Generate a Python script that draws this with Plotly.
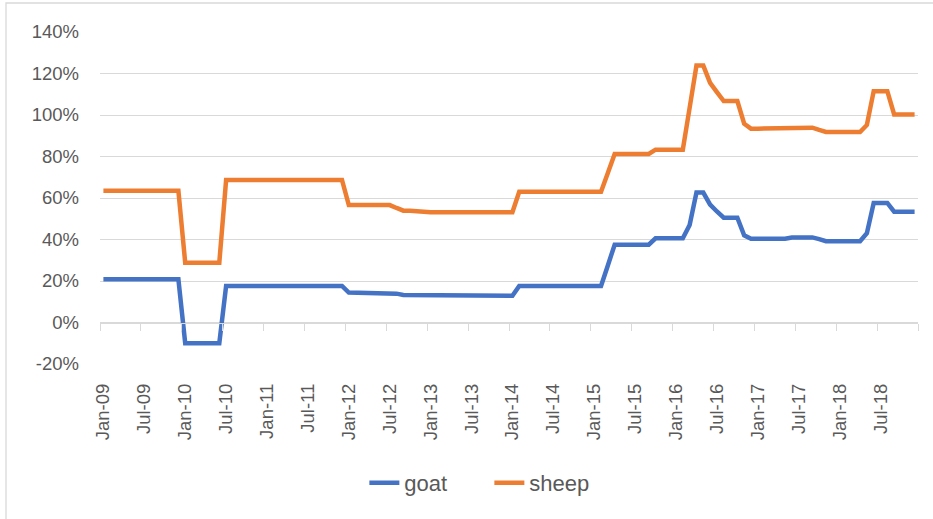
import plotly.graph_objects as go

# ---- data (monthly, Jan-09 .. Dec-18), percent ----
months = [f"{m}-{y:02d}" for y in range(9, 19) for m in
          ["Jan", "Feb", "Mar", "Apr", "May", "Jun", "Jul", "Aug", "Sep", "Oct", "Nov", "Dec"]]

goat = ([20.8] * 12 + [-10.0] * 6 + [17.6] * 18 + [14.4] * 7 + [13.9] + [13.3] * 2 + [13.1]
        + [12.9] * 14 + [17.6] * 13 + [27.5] + [37.5] * 6 + [40.6] * 5 + [47.0] + [62.6] * 2
        + [56.8] + [53.5] + [50.5] * 3 + [42.0] + [40.4] * 6 + [41.0] * 4 + [40.2] + [39.2] * 6
        + [43.0] + [57.6] * 3 + [53.4] * 4)

sheep = ([63.5] * 12 + [28.8] * 6 + [68.7] * 18 + [56.6] * 7 + [55.2] + [53.9] * 2 + [53.5]
         + [53.1] * 14 + [63.0] * 13 + [72.0] + [81.2] * 6 + [83.3] * 5 + [103.5] + [123.8] * 2
         + [115.5] + [111.0] + [106.7] * 3 + [95.8] + [93.4] * 6 + [93.9] * 4 + [92.8] + [91.8] * 6
         + [95.2] + [111.5] * 3 + [100.3] * 4)

x_idx = list(range(len(months)))
label_idx = x_idx[::6]
x_labels = months[::6]
y_ticks = [-20, 0, 20, 40, 60, 80, 100, 120, 140]
y_labels = [f"{v}%" for v in y_ticks]
boundaries = [i - 0.5 for i in range(0, len(months) + 1, 6)]

BLUE = "#4472C4"
ORANGE = "#ED7D31"
GRID = "#D9D9D9"
TXT = "#595959"
FONT = "Liberation Sans"

fig = go.Figure()
fig.add_trace(go.Scatter(x=x_idx, y=goat, mode="lines", name="goat",
                         line=dict(color=BLUE, width=4.5)))
fig.add_trace(go.Scatter(x=x_idx, y=sheep, mode="lines", name="sheep",
                         line=dict(color=ORANGE, width=4.5)))
# helper trace so the tick-mark axis (x2) exists
fig.add_trace(go.Scatter(x=[], y=[], xaxis="x2", showlegend=False, hoverinfo="skip"))

xr = [-0.5, len(months) - 0.5]
fig.update_layout(
    width=933, height=519,
    margin=dict(l=100, r=15, t=32, b=155),
    paper_bgcolor="white", plot_bgcolor="white",
    font=dict(family=FONT, size=18, color=TXT),
    xaxis=dict(range=xr, tickmode="array", tickvals=label_idx, ticktext=x_labels,
               tickangle=-90, showgrid=False, zeroline=False, showline=False,
               ticks="", ticklabelstandoff=15, tickfont=dict(size=18.5, color=TXT)),
    xaxis2=dict(range=xr, overlaying="x", anchor="free", position=20 / 160,
                tickmode="array", tickvals=boundaries, ticks="outside", ticklen=7,
                tickcolor=GRID, tickwidth=1.3, showticklabels=False, showgrid=False,
                zeroline=False, showline=True, linecolor=GRID, linewidth=1.3),
    yaxis=dict(range=[-20, 140], tickmode="array", tickvals=y_ticks, ticktext=y_labels,
               showgrid=True, gridcolor=GRID, gridwidth=1.3, zeroline=False,
               showline=False, ticks="", ticklabelstandoff=20,
               tickfont=dict(size=18.5, color=TXT)),
    legend=dict(orientation="h", x=0.476, xanchor="center", y=-0.358, yanchor="middle",
                font=dict(size=22, color=TXT), bgcolor="rgba(0,0,0,0)",
                entrywidth=80, entrywidthmode="pixels"),
    showlegend=True,
    shapes=[dict(type="rect", xref="paper", yref="paper",
                 x0=(6 - 100) / 818, x1=1.1, y0=-0.7, y1=1 + (32 - 3) / 332,
                 line=dict(color=GRID, width=1.3), fillcolor="rgba(0,0,0,0)", layer="below")],
)

fig.write_html("out.html", config={"displayModeBar": False},
               post_script="document.body.style.margin='0px';")
